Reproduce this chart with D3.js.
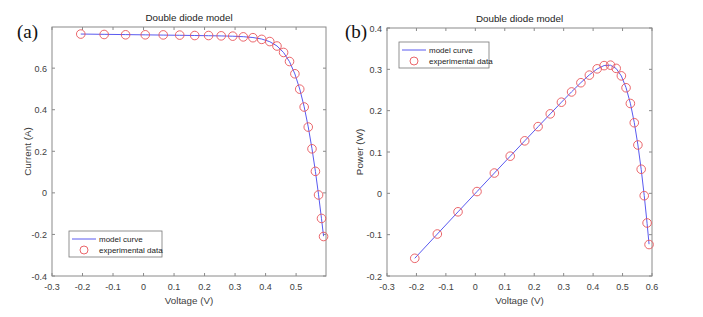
<!DOCTYPE html>
<html>
<head>
<meta charset="utf-8">
<script src="https://cdn.jsdelivr.net/npm/d3@7"></script>
<style>
  body { margin: 0; background: #fff; }
  svg { display: block; }
  text { font-family: "Liberation Sans", Arial, sans-serif; }
  text.tag { font-family: "Liberation Serif", "Times New Roman", serif; }
</style>
</head>
<body>
<svg width="703" height="317"></svg>
<script>
// measured I-V points (voltage in V, current in A)
const voltage = [-0.2057, -0.1291, -0.0588, 0.0057, 0.0646, 0.1185, 0.1678, 0.2132, 0.2545, 0.2924,
  0.3269, 0.3585, 0.3873, 0.4137, 0.4373, 0.4590, 0.4784, 0.4960, 0.5119, 0.5265,
  0.5398, 0.5521, 0.5633, 0.5736, 0.5833, 0.5900];
const current = [0.7640, 0.7620, 0.7605, 0.7605, 0.7600, 0.7590, 0.7570, 0.7570, 0.7555, 0.7540,
  0.7505, 0.7465, 0.7385, 0.7280, 0.7065, 0.6755, 0.6320, 0.5730, 0.4990, 0.4130,
  0.3165, 0.2120, 0.1035, -0.0100, -0.1230, -0.2100];
// model curve current (double diode fit)
const modelCurrent = [0.7641, 0.7627, 0.7614, 0.7602, 0.7591, 0.7581, 0.7571, 0.7561, 0.7551, 0.7537,
  0.7514, 0.7474, 0.7401, 0.7274, 0.7070, 0.6753, 0.6310, 0.5721, 0.4996, 0.4139,
  0.3175, 0.2122, 0.1030, -0.0093, -0.1245, -0.2085];
// power values (W)
const power = [-0.1572, -0.0984, -0.0447, 0.0043, 0.0491, 0.0899, 0.1270, 0.1614, 0.1923, 0.2205,
  0.2453, 0.2676, 0.2860, 0.3012, 0.3090, 0.3101, 0.3023, 0.2842, 0.2554, 0.2174,
  0.1708, 0.1170, 0.0583, -0.0057, -0.0717, -0.1239];
const modelPower = [-0.1572, -0.0985, -0.0448, 0.0043, 0.0490, 0.0898, 0.1270, 0.1612, 0.1922, 0.2204,
  0.2456, 0.2679, 0.2866, 0.3009, 0.3092, 0.3100, 0.3019, 0.2838, 0.2557, 0.2179,
  0.1714, 0.1171, 0.0580, -0.0053, -0.0726, -0.1230];

const xTicksA = [-0.3, -0.2, -0.1, 0, 0.1, 0.2, 0.3, 0.4, 0.5];
const yTicksA = [-0.4, -0.2, 0, 0.2, 0.4, 0.6];
const xTicksB = [-0.3, -0.2, -0.1, 0, 0.1, 0.2, 0.3, 0.4, 0.5, 0.6];
const yTicksB = [-0.2, -0.1, 0, 0.1, 0.2, 0.3, 0.4];

const svg = d3.select("svg");
const axisColor = "#8a8a8a";
const textColor = "#404040";

function fmt(v) {
  if (Math.abs(v) < 1e-9) return "0";
  return d3.format(".1f")(v).replace("−", "-");
}

function drawPanel(p) {
  const x = d3.scaleLinear().domain(p.xDomain).range([p.left, p.right]);
  const y = d3.scaleLinear().domain(p.yDomain).range([p.bottom, p.top]);
  const g = svg.append("g");

  // box
  g.append("rect")
    .attr("x", p.left).attr("y", p.top)
    .attr("width", p.right - p.left).attr("height", p.bottom - p.top)
    .attr("fill", "none").attr("stroke", axisColor).attr("stroke-width", 1);

  // ticks (inside, on both sides)
  p.xTicks.forEach(t => {
    g.append("line").attr("x1", x(t)).attr("x2", x(t)).attr("y1", p.bottom).attr("y2", p.bottom - 3)
      .attr("stroke", axisColor);
    g.append("line").attr("x1", x(t)).attr("x2", x(t)).attr("y1", p.top).attr("y2", p.top + 3)
      .attr("stroke", axisColor);
    g.append("text").attr("x", x(t)).attr("y", p.bottom + 14)
      .attr("text-anchor", "middle").attr("font-size", 9).attr("fill", textColor)
      .text(fmt(t));
  });
  p.yTicks.forEach(t => {
    g.append("line").attr("x1", p.left).attr("x2", p.left + 3).attr("y1", y(t)).attr("y2", y(t))
      .attr("stroke", axisColor);
    g.append("line").attr("x1", p.right).attr("x2", p.right - 3).attr("y1", y(t)).attr("y2", y(t))
      .attr("stroke", axisColor);
    g.append("text").attr("x", p.left - 5).attr("y", y(t) + 3.5)
      .attr("text-anchor", "end").attr("font-size", 9).attr("fill", textColor)
      .text(fmt(t));
  });

  // labels
  g.append("text").attr("x", (p.left + p.right) / 2).attr("y", p.top - 6)
    .attr("text-anchor", "middle").attr("font-size", 9.8).attr("fill", "#222")
    .text("Double diode model");
  g.append("text").attr("x", (p.left + p.right) / 2).attr("y", p.bottom + 28)
    .attr("text-anchor", "middle").attr("font-size", 9.8).attr("fill", textColor)
    .text("Voltage (V)");
  g.append("text")
    .attr("transform", `translate(${p.yLabelX},${(p.top + p.bottom) / 2}) rotate(-90)`)
    .attr("text-anchor", "middle").attr("font-size", 9.8).attr("fill", textColor)
    .text(p.yLabel);
  g.append("text").attr("class", "tag").attr("x", p.tagX).attr("y", 38)
    .attr("font-size", 19).attr("fill", "#111")
    .text(p.tag);

  // model curve
  const line = d3.line().x(d => x(d[0])).y(d => y(d[1]));
  g.append("path")
    .datum(voltage.map((v, i) => [v, p.model[i]]))
    .attr("d", line).attr("fill", "none").attr("stroke", "#5a5af0").attr("stroke-width", 1);

  // experimental data
  g.selectAll(null).data(voltage.map((v, i) => [v, p.data[i]])).join("circle")
    .attr("cx", d => x(d[0])).attr("cy", d => y(d[1])).attr("r", 4.3)
    .attr("fill", "none").attr("stroke", "#e8555a").attr("stroke-width", 0.9);

  // legend
  const L = p.legend;
  g.append("rect").attr("x", L.x).attr("y", L.y).attr("width", L.w).attr("height", 26)
    .attr("fill", "#fff").attr("stroke", "#777").attr("stroke-width", 0.8);
  g.append("line").attr("x1", L.x + 3).attr("x2", L.x + 27).attr("y1", L.y + 8).attr("y2", L.y + 8)
    .attr("stroke", "#5a5af0").attr("stroke-width", 1);
  g.append("circle").attr("cx", L.x + 15).attr("cy", L.y + 19).attr("r", 4)
    .attr("fill", "none").attr("stroke", "#e8555a").attr("stroke-width", 0.9);
  g.append("text").attr("x", L.x + 30).attr("y", L.y + 11).attr("font-size", 8).attr("fill", "#222")
    .text("model curve");
  g.append("text").attr("x", L.x + 30).attr("y", L.y + 22).attr("font-size", 8).attr("fill", "#222")
    .text("experimental data");
}

drawPanel({
  left: 52, right: 326, top: 27, bottom: 276,
  xDomain: [-0.3, 0.598], yDomain: [-0.4, 0.798],
  xTicks: xTicksA, yTicks: yTicksA,
  data: current, model: modelCurrent,
  yLabel: "Current (A)", yLabelX: 31, tag: "(a)", tagX: 17,
  legend: { x: 69, y: 231, w: 93 }
});

drawPanel({
  left: 387, right: 652, top: 28, bottom: 276,
  xDomain: [-0.3, 0.6], yDomain: [-0.2, 0.4],
  xTicks: xTicksB, yTicks: yTicksB,
  data: power, model: modelPower,
  yLabel: "Power (W)", yLabelX: 363, tag: "(b)", tagX: 345,
  legend: { x: 399, y: 42, w: 90 }
});
</script>
</body>
</html>
